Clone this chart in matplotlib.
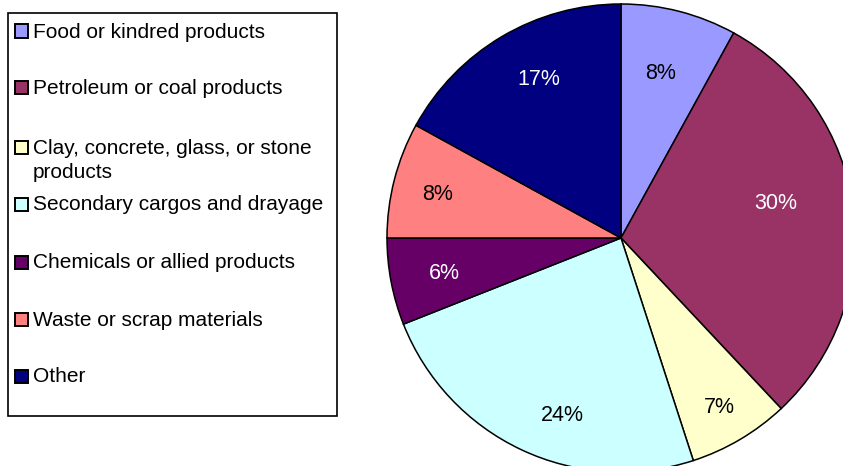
import numpy as np
import matplotlib; matplotlib.use("Agg")
import matplotlib.pyplot as plt
from matplotlib.patches import Rectangle

plt.rcParams["font.family"] = ["Liberation Sans", "DejaVu Sans"]

# --- data ---
categories = ["Food or kindred products", "Petroleum or coal products",
              "Clay, concrete, glass, or stone\nproducts", "Secondary cargos and drayage",
              "Chemicals or allied products", "Waste or scrap materials", "Other"]
shares = [8, 30, 7, 24, 6, 8, 17]
colors = ["#9999FF", "#993366", "#FFFFCC", "#CCFFFF", "#660066", "#FF8080", "#000080"]
label_colors = ["black", "white", "black", "black", "white", "black", "white"]

# label placement (Excel puts them a bit irregularly)
label_r = [0.73, 0.68, 0.83, 0.79, 0.77, 0.81, 0.77]
label_nudge = [0.9, 6.0, 0.0, 6.6, 0.0, 0.4, -3.5]  # degrees, CCW

W, H = 843, 466
fig = plt.figure(figsize=(W / 100, H / 100), dpi=100)

# pie axes: center (621, 238) px, radius 234 px
cx, cy, r = 621, 238, 234
ax = fig.add_axes([(cx - r) / W, (H - cy - r) / H, 2 * r / W, 2 * r / H])
wedges, texts, autotexts = ax.pie(
    shares, colors=colors, startangle=90, counterclock=False,
    autopct="%d%%", pctdistance=0.77,
    wedgeprops=dict(edgecolor="black", linewidth=1.1),
    textprops=dict(fontsize=15.5))
for w, t, c, d, nd in zip(wedges, autotexts, label_colors, label_r, label_nudge):
    mid = np.deg2rad((w.theta1 + w.theta2) / 2 + nd)
    t.set_position((d * np.cos(mid), d * np.sin(mid) - 0.008))
    t.set_color(c)
ax.set_xlim(-1, 1)
ax.set_ylim(-1, 1)
ax.set_aspect("equal")
ax.axis("off")

# --- legend drawn by hand, Excel-style box ---
def px(x, y):
    return x / W, 1 - y / H

x0, y0 = px(8, 13)
x1, y1 = px(337, 416)
fig.patches.append(Rectangle((x0, y1), x1 - x0, y0 - y1, transform=fig.transFigure,
                             facecolor="white", edgecolor="black", linewidth=1.2))
entry_y = [31, 88, 147, 204, 262, 319, 376]  # first-line centers (px)
sq = 13
for lab, col, yy in zip(categories, colors, entry_y):
    fx, fy = px(14.5, yy + sq / 2)
    fig.patches.append(Rectangle((fx, fy), sq / W, sq / H, transform=fig.transFigure,
                                 facecolor=col, edgecolor="black", linewidth=1.4))
    tx, ty = px(33, yy - 8.5)
    fig.text(tx, ty, lab, fontsize=15, va="top", ha="left", linespacing=1.38)

fig.savefig("out.png", dpi=100, facecolor="white")
